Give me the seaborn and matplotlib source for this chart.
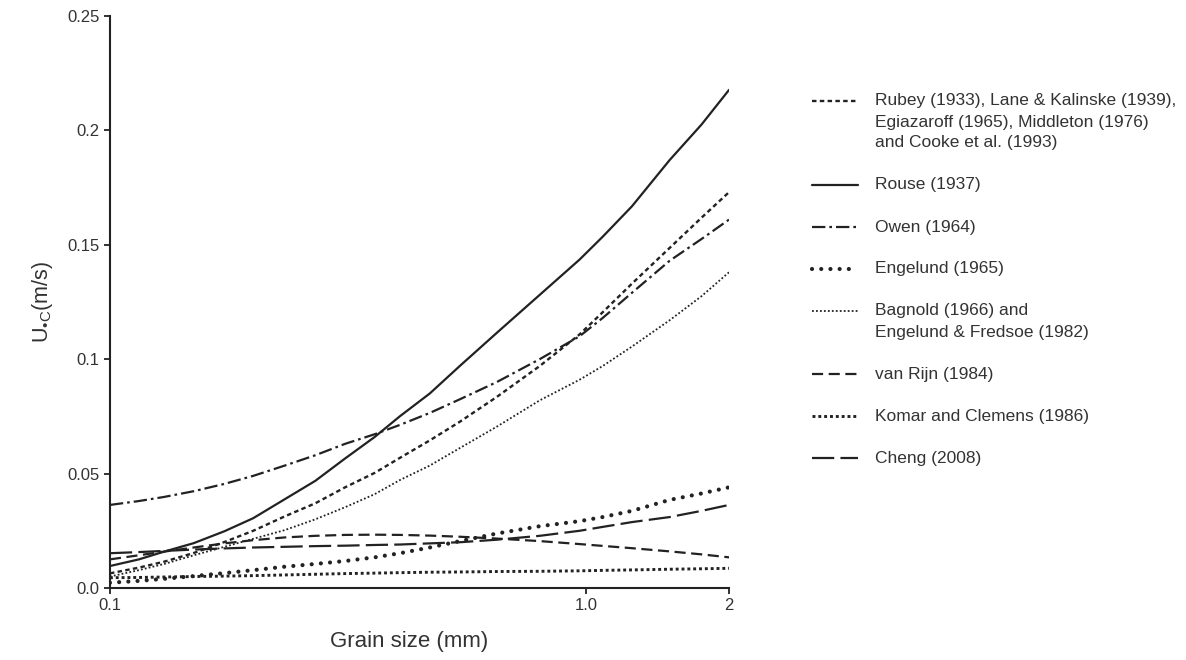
import numpy as np
import pandas as pd
import seaborn as sns
import matplotlib.pyplot as plt
from matplotlib.lines import Line2D

grain_size = [0.1, 0.115, 0.13, 0.15, 0.174, 0.2, 0.233, 0.27, 0.312, 0.36, 0.407,
              0.47, 0.544, 0.65, 0.8, 0.97, 1.085, 1.25, 1.5, 1.75, 2.0]

rubey = [0.0064, 0.0089, 0.0115, 0.0153, 0.0201, 0.0250, 0.0313, 0.0370, 0.0440, 0.0503, 0.0569,
         0.0645, 0.0727, 0.0835, 0.0970, 0.1108, 0.1205, 0.1330, 0.1486, 0.1618, 0.173]
rouse = [0.0096, 0.0125, 0.0159, 0.0196, 0.0248, 0.0305, 0.0388, 0.0468, 0.0566, 0.0660, 0.0751,
         0.0850, 0.0971, 0.1115, 0.1281, 0.1435, 0.1535, 0.1668, 0.187, 0.2025, 0.2177]
owen = [0.0363, 0.038, 0.0398, 0.0423, 0.0455, 0.049, 0.0535, 0.058, 0.063, 0.0672, 0.0713,
        0.0765, 0.0825, 0.090, 0.100, 0.110, 0.118, 0.129, 0.143, 0.1525, 0.161]
engelund = [0.0023, 0.0031, 0.004, 0.0052, 0.0065, 0.0078, 0.0093, 0.0105, 0.0118, 0.0134, 0.0152,
            0.0177, 0.0205, 0.0238, 0.027, 0.0292, 0.031, 0.0337, 0.0385, 0.0413, 0.044]
bagnold = [0.005, 0.0078, 0.0105, 0.0143, 0.018, 0.0215, 0.0253, 0.030, 0.0353, 0.041, 0.0472,
           0.0535, 0.0612, 0.0705, 0.082, 0.091, 0.097, 0.1055, 0.117, 0.1275, 0.138]
van_rijn = [0.0125, 0.0143, 0.0159, 0.0177, 0.0195, 0.0209, 0.0221, 0.0228, 0.0232, 0.0233, 0.0232,
            0.0229, 0.0224, 0.0216, 0.0205, 0.0192, 0.0184, 0.0174, 0.0160, 0.0147, 0.0134]
komar = [0.0045, 0.0046, 0.0048, 0.005, 0.0052, 0.0054, 0.0057, 0.006, 0.0063, 0.0065, 0.0067,
         0.0069, 0.007, 0.0072, 0.0073, 0.0075, 0.0077, 0.0079, 0.0082, 0.0084, 0.0086]
cheng = [0.0152, 0.0157, 0.0162, 0.0168, 0.0173, 0.0177, 0.018, 0.0183, 0.0185, 0.0188, 0.019,
         0.0195, 0.020, 0.0211, 0.0228, 0.025, 0.0267, 0.0288, 0.031, 0.0337, 0.0363]

labels = [
    'Rubey (1933), Lane & Kalinske (1939),\nEgiazaroff (1965), Middleton (1976)\nand Cooke et al. (1993)',
    'Rouse (1937)',
    'Owen (1964)',
    'Engelund (1965)',
    'Bagnold (1966) and\nEngelund & Fredsoe (1982)',
    'van Rijn (1984)',
    'Komar and Clemens (1986)',
    'Cheng (2008)',
]
series = [rubey, rouse, owen, engelund, bagnold, van_rijn, komar, cheng]

styles = [
    dict(lw=1.7, ls=(0, (1.9, 1.4))),
    dict(lw=1.6, ls='-'),
    dict(lw=1.6, ls=(0, (6, 1.8, 1.2, 1.8))),
    dict(lw=3.0, ls=(0, (0.01, 2.2)), dash_capstyle='round'),
    dict(lw=1.3, ls=(0, (1, 1.2))),
    dict(lw=1.6, ls=(0, (5, 2.5))),
    dict(lw=2.1, ls=(0, (1, 1.0))),
    dict(lw=1.6, ls=(0, (10, 2.8))),
]

sns.set_style('ticks')
plt.rcParams['font.family'] = ['Liberation Sans', 'DejaVu Sans']
plt.rcParams['mathtext.fontset'] = 'custom'
plt.rcParams['mathtext.rm'] = 'Liberation Sans'
ink = '#222222'
txt = '#333333'

fig = plt.figure(figsize=(11.86, 6.6), dpi=100)
ax = fig.add_axes([0.0927, 0.1091, 0.522, 0.8667])

for vals, st in zip(series, styles):
    df = pd.DataFrame({'d': grain_size, 'u': vals})
    sns.lineplot(data=df, x='d', y='u', ax=ax, color=ink, linewidth=st['lw'],
                 linestyle=st['ls'], dash_capstyle=st.get('dash_capstyle', 'butt'))

ax.set_xscale('log')
ax.set_xlim(0.1, 2)
ax.set_ylim(0, 0.25)
ax.set_xticks([0.1, 1.0, 2])
ax.set_xticklabels(['0.1', '1.0', '2'])
ax.xaxis.set_minor_locator(plt.NullLocator())
ax.set_yticks([0, 0.05, 0.1, 0.15, 0.2, 0.25])
ax.set_yticklabels(['0.0', '0.05', '0.1', '0.15', '0.2', '0.25'])
ax.tick_params(labelsize=12, length=4, width=1.3, colors=ink, labelcolor=txt)
for s in ['top', 'right']:
    ax.spines[s].set_visible(False)
for s in ['left', 'bottom']:
    ax.spines[s].set_linewidth(1.5)
    ax.spines[s].set_color(ink)

ax.set_xlabel('Grain size (mm)', fontsize=16, color=txt)
ax.xaxis.set_label_coords(0.483, -0.075)
ax.set_ylabel(r'U$_{\mathregular{•C}}$(m/s)', fontsize=15.5, color=txt, labelpad=9)

# legend drawn row by row so handles sit on the first line of each entry
W, H = 1186, 660
y = 101
for lab, st in zip(labels, styles):
    fy = 1 - y / H
    fig.add_artist(Line2D([812 / W, 858 / W], [fy, fy], color=ink, linewidth=st['lw'],
                          linestyle=st['ls'], dash_capstyle=st.get('dash_capstyle', 'butt'),
                          transform=fig.transFigure))
    lines = lab.split('\n')
    for i, ln in enumerate(lines):
        fig.text(875 / W, 1 - (y + 21 * i) / H, ln, fontsize=12.5, color=txt, va='center')
    y += 42 + 21 * (len(lines) - 1)

fig.savefig('out.png', dpi=100)
